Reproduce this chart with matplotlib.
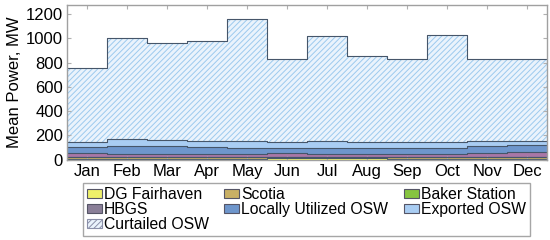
import numpy as np
import matplotlib
matplotlib.use("Agg")
import matplotlib.pyplot as plt
from matplotlib.patches import Patch

plt.rcParams['font.family'] = ['Liberation Sans', 'DejaVu Sans']
plt.rcParams['hatch.linewidth'] = 0.7

months = ["Jan", "Feb", "Mar", "Apr", "May", "Jun", "Jul", "Aug", "Sep", "Oct", "Nov", "Dec"]
dg_fairhaven = [3, 3, 3, 3, 3, 12, 12, 10, 8, 5, 3, 3]
scotia = [18, 16, 16, 16, 16, 12, 12, 14, 16, 16, 18, 18]
baker_station = [1, 1, 1, 1, 1, 1, 1, 1, 1, 1, 1, 1]
hbgs = [36, 30, 30, 30, 30, 30, 25, 25, 23, 28, 35, 38]
local_osw = [50, 66, 62, 53, 48, 37, 45, 42, 44, 45, 55, 60]
exported_osw = [41, 55, 53, 54, 52, 55, 57, 54, 53, 52, 40, 37]
curtailed_osw = [604, 831, 800, 820, 1009, 681, 866, 707, 683, 880, 676, 673]

names = ["DG Fairhaven", "Scotia", "Baker Station", "HBGS",
         "Locally Utilized OSW", "Exported OSW", "Curtailed OSW"]
series = [dg_fairhaven, scotia, baker_station, hbgs, local_osw, exported_osw, curtailed_osw]
colors = ["#eef06a", "#c9b065", "#86c440", "#a977a6", "#6e96cc", "#a9cdf3", "#eaf3fc"]
legend_colors = ["#eef06a", "#c9b065", "#86c440", "#8a7f98", "#6e96cc", "#a9cdf3", "#eaf3fc"]
edge = "#46566a"

fig = plt.figure(figsize=(5.5, 2.4), dpi=100)
ax = fig.add_axes([0.122, 0.335, 0.873, 0.644])

x = np.arange(len(months) + 1)
base = np.zeros(len(months))
for name, vals, col in zip(names, series, colors):
    vals = np.asarray(vals, dtype=float)
    top = base + vals
    yb = np.append(base, base[-1])
    yt = np.append(top, top[-1])
    if name == "Curtailed OSW":
        ax.fill_between(x, yb, yt, step='post', facecolor=col, edgecolor="#9ccaee",
                        hatch='//////', linewidth=0)
    else:
        ax.fill_between(x, yb, yt, step='post', facecolor=col, linewidth=0)
    ax.step(x, yt, where='post', color=edge, linewidth=0.8)
    base = top

ax.set_xlim(0, len(months))
ax.set_ylim(0, 1275)
ax.set_xticks(np.arange(len(months)) + 0.5)
ax.set_xticklabels(months)
ax.set_yticks(np.arange(0, 1201, 200))
ax.tick_params(axis='both', direction='in', length=3, color='#b0b0b0',
               labelsize=12, top=True, right=True, pad=3)
ax.set_ylabel("Mean Power, MW", fontsize=12, labelpad=3)
for s in ax.spines.values():
    s.set_color('#a0a0a0')
    s.set_linewidth(1.0)

handles = {}
for name, col in zip(names, legend_colors):
    if name == "Curtailed OSW":
        handles[name] = Patch(facecolor=col, edgecolor="#8a8fa8", hatch='//////', linewidth=0.8)
    else:
        handles[name] = Patch(facecolor=col, edgecolor="#555566", linewidth=0.8)
order = ["DG Fairhaven", "HBGS", "Curtailed OSW", "Scotia", "Locally Utilized OSW",
         "Baker Station", "Exported OSW"]
leg = fig.legend([handles[n] for n in order], order, ncol=3, loc='upper center',
                 bbox_to_anchor=(0.557, 0.2375), fontsize=11.3, frameon=True,
                 fancybox=False, edgecolor='#909090', handlelength=0.95, handleheight=0.45,
                 handletextpad=0.12, labelspacing=0.0, columnspacing=1.0,
                 borderpad=0.25, borderaxespad=0)
leg.get_frame().set_linewidth(1.0)

fig.savefig("out.png", dpi=100)
